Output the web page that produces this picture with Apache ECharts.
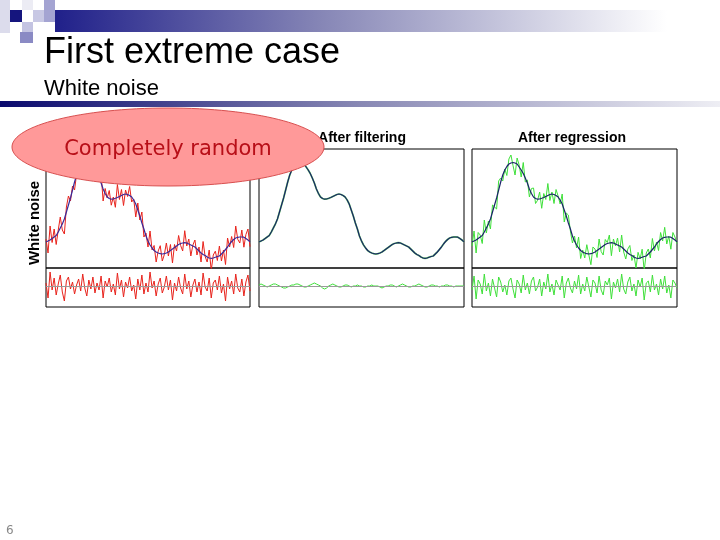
<!DOCTYPE html>
<html>
<head>
<meta charset="utf-8">
<script src="https://cdn.jsdelivr.net/npm/echarts@6/dist/echarts.min.js"></script>
<style>html,body{margin:0;padding:0;background:#fff}#c{width:720px;height:540px}</style>
</head>
<body>
<div id="c"></div>
<script>
// Underlying smooth signal, 101 samples
var smoothSignal = [26,27,28,29.5,31,32.5,36,40,44,49,
  56,63,70,78,86,93,98,101.5,104,105,
  105.5,105,104,101,98,94.5,90,85,79,74.5,
  71,69.5,68.8,69,69.7,70.5,71.5,72.5,73.5,74,
  73.5,72.5,71,68,64,58,52,45,39,32,
  27,23,20,17.5,16,15,14.3,14,14.3,15,
  16,17.5,19,20.5,22,23.5,24.5,25,25.3,25,
  24,23,22,21,19,17,15,13.5,12.5,11,
  10,9.7,10,10.8,11.5,12,14,16,18.5,21,
  24,26.5,28.5,30,30.7,31,31,30.8,29.5,28,
  26.3];
// White noise residual (panel 1, red)
var noiseResidual = [3,-12,14,-4,8,-9,2,11,-6,-15,
  5,9,-3,4,-8,1,7,-5,12,-2,
  -10,6,-3,9,-7,3,-4,10,-12,5,
  -1,8,-6,2,-9,13,-3,6,-11,4,
  -2,9,-5,1,-13,7,-4,11,-8,3,
  -6,14,-2,5,-10,2,8,-7,-1,10,
  -4,6,-14,3,-5,9,-2,-8,12,-3,
  5,-11,1,7,-6,4,-9,13,-1,-5,
  8,-12,3,6,-4,10,-7,2,-15,9,
  -3,5,-8,12,-2,-6,7,-10,4,11,
  -5];
// Residual after filtering (panel 2, green)
var filterResidual = [1,2,1,0,-1,0,1,2,2,1,
  0,-1,-2,-2,-1,0,1,1,2,2,
  1,0,-1,-1,0,1,2,3,2,1,
  0,-2,-3,-2,0,1,2,1,0,-1,
  -1,0,1,1,0,-1,0,0,1,0,
  0,-1,-1,0,0,1,0,0,0,-1,
  -2,-1,0,0,1,1,0,-1,0,1,
  2,1,0,-1,-1,0,0,1,2,1,
  0,-1,-1,0,1,1,0,0,-1,0,
  0,1,1,0,0,-1,0,0,0,0,
  0];
// Residual after regression (panel 3, green)
var regressionResidual = [-4,10,-13,6,2,-8,12,-5,3,-10,
  7,-2,-11,9,4,-6,1,-9,5,8,
  -3,-12,6,2,-7,11,-4,3,-8,5,
  9,-5,-1,7,-10,4,-3,12,-6,2,
  -9,6,1,-4,10,-12,3,8,-2,-7,
  5,-3,11,-8,2,-5,9,-1,-11,6,
  3,-7,10,-4,-9,5,1,8,-13,4,
  -2,7,-6,12,-3,-8,4,9,-5,2,
  -10,6,-1,8,-14,3,5,-6,11,-4,
  2,-9,7,-3,10,-7,1,-12,6,3,
  -2];
var panelTitles = ['After filtering', 'After regression'];
var rowLabel = 'White noise';

function pairs(arr){ return arr.map(function(v,i){ return [i, v]; }); }
function sumPairs(a,b){ return a.map(function(v,i){ return [i, v + b[i]]; }); }

var RED = '#e8231c', GREEN = '#3fe03a', NAVY = '#1a2468', PURPLE = '#3b2a9a', GRAY = '#9a9a9a';
var lefts = [46, 259, 472], widths = [204, 205, 205];
var grids = [], xAxes = [], yAxes = [];
for (var p = 0; p < 3; p++) {
  grids.push({left: lefts[p], top: 149, width: widths[p], height: 119, show: true, borderColor: '#000', borderWidth: 1, backgroundColor: 'transparent'});
  grids.push({left: lefts[p], top: 268, width: widths[p], height: 39, show: true, borderColor: '#000', borderWidth: 1, backgroundColor: 'transparent'});
}
for (var g = 0; g < 6; g++) {
  xAxes.push({type: 'value', gridIndex: g, min: 0, max: 100, show: false});
  yAxes.push(g % 2 === 0 ? {type: 'value', gridIndex: g, min: 0, max: 119, show: false}
                         : {type: 'value', gridIndex: g, min: -21, max: 18, show: false});
}
function line(g, data, color, width, z) {
  return {type: 'line', xAxisIndex: g, yAxisIndex: g, data: data, symbol: 'none', silent: true, animation: false,
    lineStyle: {color: color, width: width}, z: z || 2};
}
function zeroLine(g) {
  return {type: 'line', xAxisIndex: g, yAxisIndex: g, data: [], silent: true, animation: false,
    markLine: {silent: true, symbol: 'none', label: {show: false}, lineStyle: {color: GRAY, width: 1, type: 'solid'}, data: [{yAxis: 0}]}, z: 1};
}
var series = [
  line(0, sumPairs(smoothSignal, noiseResidual), RED, 1, 2),
  line(0, pairs(smoothSignal), PURPLE, 1.2, 3),
  zeroLine(1),
  line(1, pairs(noiseResidual), RED, 1, 2),
  line(2, pairs(smoothSignal), '#6fd06a', 1.8, 2),
  line(2, pairs(smoothSignal), NAVY, 1.2, 3),
  zeroLine(3),
  line(3, pairs(filterResidual), GREEN, 1, 2),
  line(4, sumPairs(smoothSignal, regressionResidual), GREEN, 1, 2),
  line(4, pairs(smoothSignal), NAVY, 1.2, 3),
  zeroLine(5),
  line(5, pairs(regressionResidual), GREEN, 1, 2)
];

var graphics = [
  // decorative header
  {type: 'rect', shape: {x: 55, y: 10, width: 665, height: 22}, style: {fill: new echarts.graphic.LinearGradient(0,0,1,0,[{offset:0,color:'#20208a'},{offset:0.4,color:'#8686b6'},{offset:0.92,color:'#ffffff'}])}, z: 1},
  {type: 'rect', shape: {x: 0, y: 0, width: 10, height: 33}, style: {fill: '#dcdcec'}},
  {type: 'rect', shape: {x: 22, y: 0, width: 11, height: 10}, style: {fill: '#ececf4'}},
  {type: 'rect', shape: {x: 10, y: 10, width: 12, height: 12}, style: {fill: '#15157e'}},
  {type: 'rect', shape: {x: 33, y: 10, width: 11, height: 12}, style: {fill: '#c8c8e4'}},
  {type: 'rect', shape: {x: 44, y: 0, width: 11, height: 22}, style: {fill: '#a4a4d2'}},
  {type: 'rect', shape: {x: 22, y: 22, width: 11, height: 10}, style: {fill: '#c4c4e2'}},
  {type: 'rect', shape: {x: 20, y: 32, width: 13, height: 11}, style: {fill: '#8a8ac4'}},
  {type: 'rect', shape: {x: 0, y: 101, width: 720, height: 6}, style: {fill: new echarts.graphic.LinearGradient(0,0,1,0,[{offset:0,color:'#0a0a6e'},{offset:0.5,color:'#8888b4'},{offset:1,color:'#eeeef4'}])}},
  // titles
  {type: 'text', left: 44, top: 35, style: {text: 'First extreme case', font: '36px "Liberation Sans", Arial, sans-serif', fill: '#000'}},
  {type: 'text', left: 44, top: 78, style: {text: 'White noise', font: '22px "Liberation Sans", Arial, sans-serif', fill: '#000'}},
  // panel titles
  {type: 'text', x: 362, y: 138, style: {text: panelTitles[0], font: 'bold 14px "Liberation Sans", Arial, sans-serif', fill: '#000', textAlign: 'center', textVerticalAlign: 'middle'}},
  {type: 'text', x: 572, y: 138, style: {text: panelTitles[1], font: 'bold 14px "Liberation Sans", Arial, sans-serif', fill: '#000', textAlign: 'center', textVerticalAlign: 'middle'}},
  {type: 'text', x: 35, y: 223, rotation: Math.PI / 2, style: {text: rowLabel, font: 'bold 15px "Liberation Sans", Arial, sans-serif', fill: '#000', textAlign: 'center', textVerticalAlign: 'middle'}},
  // callout ellipse
  {type: 'ellipse', shape: {cx: 168, cy: 147, rx: 156, ry: 39}, style: {fill: '#ff9999', stroke: '#d85050', lineWidth: 1}, z: 50},
  {type: 'text', x: 168, y: 150, z: 51, style: {text: 'Completely random', font: '21px "DejaVu Sans", Verdana, sans-serif', fill: '#b80f18', textAlign: 'center', textVerticalAlign: 'middle'}},
  // page number
  {type: 'text', x: 6, y: 531, style: {text: '6', font: '12px "DejaVu Sans", sans-serif', fill: '#888', textVerticalAlign: 'middle'}}
];

var chart = echarts.init(document.getElementById('c'), null, {renderer: 'canvas'});
chart.setOption({
  animation: false,
  backgroundColor: '#fff',
  grid: grids, xAxis: xAxes, yAxis: yAxes,
  series: series,
  graphic: graphics
});
</script>
</body>
</html>
